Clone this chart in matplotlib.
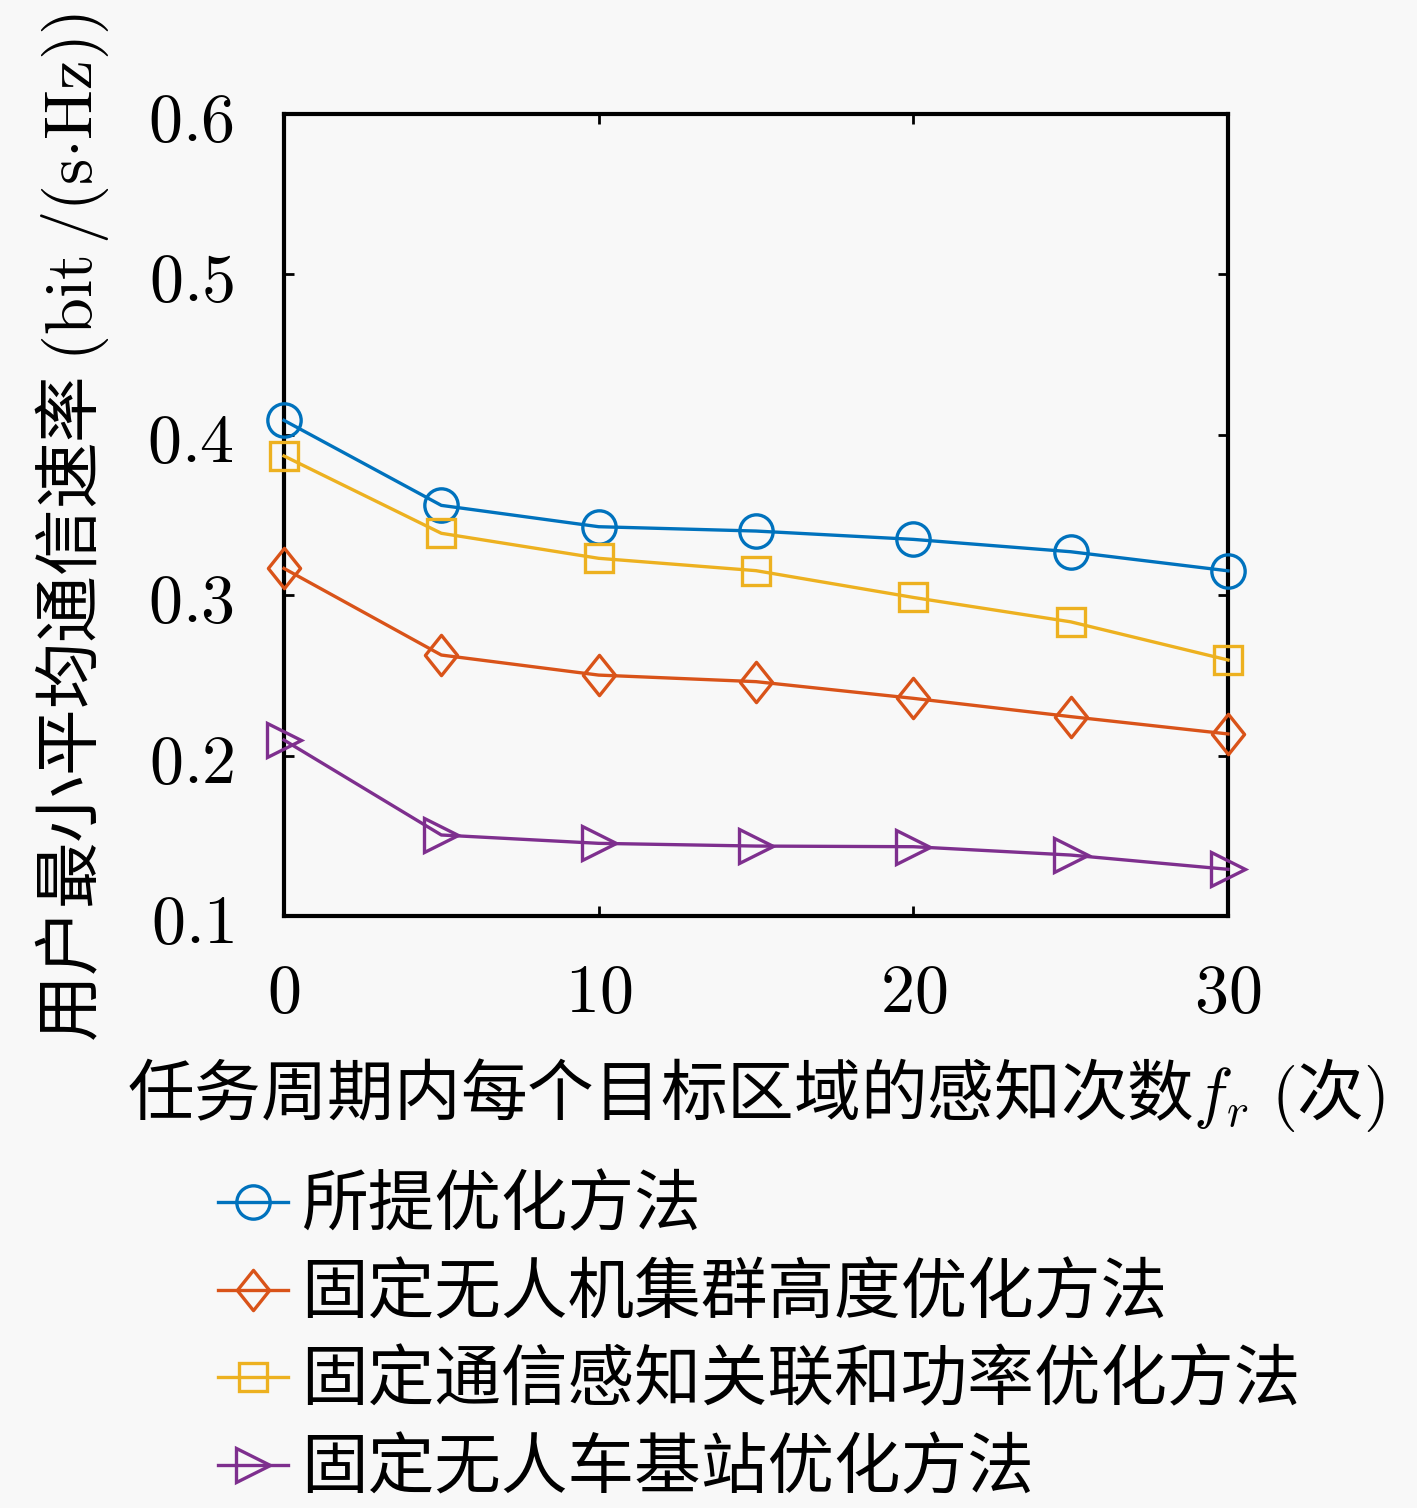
import matplotlib
matplotlib.use("Agg")
import matplotlib.pyplot as plt
from matplotlib.path import Path

plt.rcParams['font.family'] = ['Noto Sans CJK SC', 'DejaVu Sans']
plt.rcParams['mathtext.fontset'] = 'cm'

# data
x = [0, 5, 10, 15, 20, 25, 30]
proposed = [0.409, 0.356, 0.3427, 0.340, 0.3348, 0.3271, 0.3152]
fixed_height = [0.3167, 0.2627, 0.2502, 0.2461, 0.2357, 0.2243, 0.2135]
fixed_assoc = [0.3868, 0.3386, 0.3230, 0.3153, 0.2986, 0.2834, 0.2596]
fixed_ugv = [0.2097, 0.1505, 0.1453, 0.1436, 0.1432, 0.1380, 0.1291]

labels = ['所提优化方法', '固定无人机集群高度优化方法',
          '固定通信感知关联和功率优化方法', '固定无人车基站优化方法']
xticks = [0, 10, 20, 30]
yticks = [0.1, 0.2, 0.3, 0.4, 0.5, 0.6]

bg = '#f8f8f8'
colors = ['#0072BD', '#D95319', '#EDB120', '#7E2F8E']

# MATLAB-like diamond (taller than wide)
diamond = Path([(0, 1), (0.8, 0), (0, -1), (-0.8, 0), (0, 1)],
               [Path.MOVETO, Path.LINETO, Path.LINETO, Path.LINETO, Path.CLOSEPOLY])

fig = plt.figure(figsize=(14.17, 15.08), dpi=100, facecolor=bg)
ax = fig.add_axes([284 / 1417, 1 - 916 / 1508, (1228 - 284) / 1417, (916 - 114) / 1508])
ax.set_facecolor(bg)

series = [(proposed, 'o', 24), (fixed_height, diamond, 29),
          (fixed_assoc, 's', 20), (fixed_ugv, '>', 24)]
handles = []
for (ys, mk, ms), c in zip(series, colors):
    h, = ax.plot(x, ys, color=c, lw=2.4, marker=mk, ms=ms, mfc='none',
                 mec=c, mew=2.4, clip_on=False, zorder=3)
    handles.append(h)

ax.set_xlim(0, 30)
ax.set_ylim(0.1, 0.6)
ax.set_xticks(xticks)
ax.set_xticklabels(['$%d$' % t for t in xticks])
ax.set_yticks(yticks)
ax.set_yticklabels(['$%.1f$' % t for t in yticks])
ax.tick_params(direction='in', length=7, width=2, top=True, right=True,
               labelsize=49)
ax.tick_params(axis='y', pad=36)
ax.tick_params(axis='x', pad=30)
for s in ax.spines.values():
    s.set_linewidth(3)

fig.text(756 / 1417, 1 - 1095 / 1508,
         '任务周期内每个目标区域的感知次数$f_r\\ ($次$)$',
         ha='center', va='center', fontsize=48)
fig.text(72 / 1417, 1 - 527 / 1508,
         '用户最小平均通信速率 $(\\mathrm{bit}\\,/(\\mathrm{s}{\\cdot}\\mathrm{Hz}))$',
         ha='center', va='center', rotation=90, fontsize=48)

fig.legend(handles, labels, loc='upper left',
           bbox_to_anchor=(218 / 1417, 1 - 1173 / 1508),
           frameon=False, borderpad=0, borderaxespad=0,
           handlelength=1.05, handletextpad=0.2, labelspacing=0.3,
           fontsize=48)

fig.savefig('out.png', dpi=100, facecolor=bg)
